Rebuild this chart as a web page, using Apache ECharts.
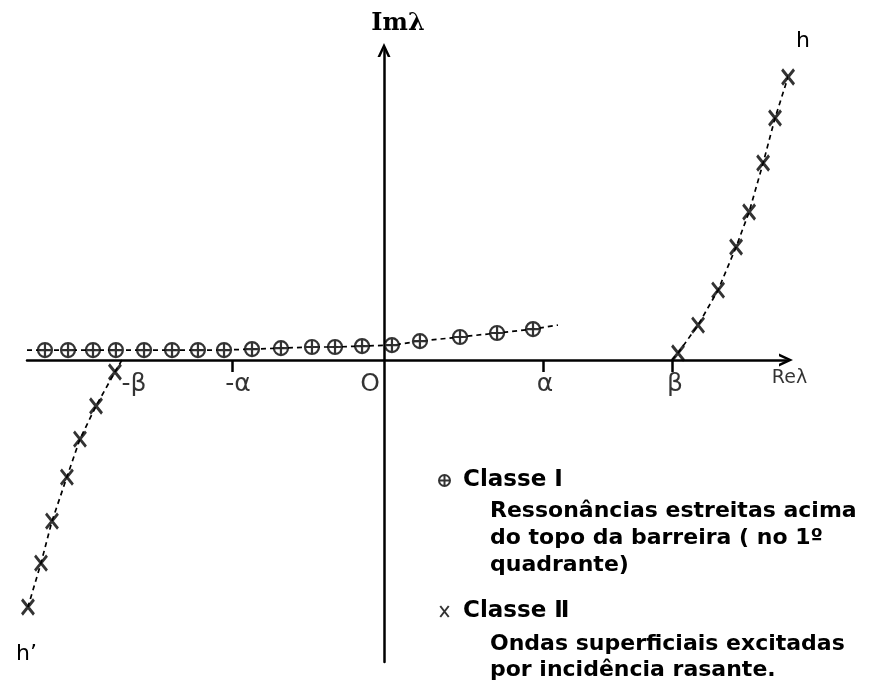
<!DOCTYPE html>
<html><head><meta charset="utf-8">
<script src="https://cdn.jsdelivr.net/npm/echarts@6/dist/echarts.min.js"></script>
<style>html,body{margin:0;padding:0;background:#fff}#c{width:871px;height:686px}</style>
</head><body><div id="c"></div>
<script>
// Class I resonances (Re λ, Im λ), units where α ≈ 1
const classIRe = [-2.132,-1.987,-1.830,-1.686,-1.509,-1.333,-1.170,-1.006,-0.830,-0.648,-0.453,-0.308,-0.138,0.050,0.226,0.478,0.711,0.937];
const classIIm = [0.063,0.063,0.063,0.063,0.063,0.063,0.063,0.063,0.069,0.075,0.082,0.082,0.088,0.094,0.119,0.145,0.170,0.195];
// Class II, branch h (first quadrant)
const classIIRightRe = [1.849,1.975,2.101,2.214,2.296,2.384,2.459,2.541];
const classIIRightIm = [0.044,0.220,0.440,0.711,0.931,1.239,1.522,1.780];
// Class II, branch h' (third quadrant)
const classIILeftRe = [-1.692,-1.811,-1.912,-1.994,-2.088,-2.157,-2.239];
const classIILeftIm = [-0.075,-0.289,-0.497,-0.736,-1.013,-1.277,-1.553];
// dashed curve end points
const curveIStart = [-2.245, 0.063];
const curveIEnd = [1.094, 0.220];
const curveRightStart = [1.811, 0];
const curveRightEnd = [2.572, 1.874];
const curveLeftStart = [-1.648, 0];
// axis ticks and labels (on the real axis)
const tickValues = [-0.956, 1.0, 1.811];
const labelValues = [-1.572, -0.918, -0.088, 1.013, 1.83, 2.55];
const labelTexts = ['-β', '-α', 'O', 'α', 'β', 'Reλ'];
const seriesNames = ['Classe Ⅰ', 'Classe Ⅱ'];
const descI = ['Ressonâncias estreitas acima', 'do topo da barreira ( no 1º', 'quadrante)'];
const descII = ['Ondas superficiais excitadas', 'por incidência rasante.'];

const zip = (a, b) => a.map((v, i) => [v, b[i]]);
const INK = '#000';
const chevron = 'path://M0,14 L6.5,0 L13,14 L10.3,14 L6.5,5.8 L2.7,14 Z';
const circlePlus = 'path://M10,0 A10,10 0 1,1 10,20 A10,10 0 1,1 10,0 Z M0,10 L20,10 M10,0 L10,20';
const crossSym = 'path://M0,0 L10,13 M10,0 L0,13';
const dash = {color: INK, width: 1.7, type: [5, 4]};

const chart = echarts.init(document.getElementById('c'));
chart.setOption({
  backgroundColor: '#fff',
  animation: false,
  grid: {left: 27, right: 85, top: 50, bottom: 24, containLabel: false, outerBoundsMode: 'none'},
  xAxis: {
    type: 'value', min: -2.245, max: 2.528,
    splitLine: {show: false},
    axisLine: {onZero: true, symbol: ['none', chevron], symbolSize: [13, 14], lineStyle: {color: INK, width: 2.5}},
    axisTick: {show: true, customValues: tickValues, length: 12, inside: false, lineStyle: {color: INK, width: 2.5}},
    axisLabel: {show: false}
  },
  yAxis: {
    type: 'value', min: -1.899, max: 1.950,
    splitLine: {show: false},
    axisLine: {onZero: true, symbol: ['none', chevron], symbolSize: [13, 14], lineStyle: {color: INK, width: 2.5}},
    axisTick: {show: false}, axisLabel: {show: false},
    name: 'Imλ', nameLocation: 'end', nameGap: 14,
    nameTextStyle: {fontFamily: 'DejaVu Serif', fontWeight: 'bold', fontSize: 24, color: INK, padding: [0, 0, 0, 28]}
  },
  legend: {
    data: seriesNames, orient: 'vertical', left: 433, top: 464, itemGap: 108,
    itemWidth: 11, itemHeight: 11, selectedMode: false,
    textStyle: {fontFamily: 'DejaVu Sans', fontWeight: 'bold', fontSize: 23, color: INK, padding: [0, 0, 0, 8]}
  },
  graphic: [
    {type: 'text', left: 490, top: 498, style: {text: descI.join('\n'), fontFamily: 'DejaVu Sans', fontWeight: 'bold', fontSize: 22, lineHeight: 27, fill: INK}},
    {type: 'text', left: 490, top: 631, style: {text: descII.join('\n'), fontFamily: 'DejaVu Sans', fontWeight: 'bold', fontSize: 22, lineHeight: 26, fill: INK}},
    {type: 'text', left: 796, top: 30, style: {text: 'h', fontFamily: 'DejaVu Sans', fontSize: 22, fill: INK}},
    {type: 'text', left: 16, top: 643, style: {text: 'h’', fontFamily: 'DejaVu Sans', fontSize: 22, fill: INK}}
  ],
  series: [
    {type: 'line', name: 'curveI', data: [curveIStart, ...zip(classIRe, classIIm), curveIEnd], showSymbol: false, symbol: 'none', lineStyle: dash, clip: false, silent: true, z: 1},
    {type: 'line', name: 'curveRight', data: [curveRightStart, ...zip(classIIRightRe, classIIRightIm), curveRightEnd], showSymbol: false, symbol: 'none', lineStyle: dash, clip: false, silent: true, z: 1},
    {type: 'line', name: 'curveLeft', data: [curveLeftStart, ...zip(classIILeftRe, classIILeftIm)], showSymbol: false, symbol: 'none', lineStyle: dash, clip: false, silent: true, z: 1},
    {type: 'scatter', name: seriesNames[0], data: zip(classIRe, classIIm), symbol: circlePlus, symbolSize: 14, clip: false, z: 3,
     itemStyle: {color: '#fff', borderColor: INK, borderWidth: 2.2}},
    {type: 'scatter', name: seriesNames[1], data: [...zip(classIIRightRe, classIIRightIm), ...zip(classIILeftRe, classIILeftIm)], symbol: crossSym, symbolSize: [12, 15], clip: false, z: 3,
     itemStyle: {color: 'transparent', borderColor: INK, borderWidth: 3}},
    {type: 'scatter', name: 'axisLabels', silent: true, clip: false, symbol: 'circle', symbolSize: 1, z: 4,
     itemStyle: {color: 'rgba(0,0,0,0)'},
     data: labelValues.map((v, i) => ({value: [v, 0], name: labelTexts[i],
       label: i === labelValues.length - 1 ? {fontSize: 19, distance: 8} : {}})),
     label: {show: true, position: 'bottom', distance: 11, formatter: '{b}', color: INK, fontFamily: 'DejaVu Sans', fontSize: 25}}
  ]
});
</script></body></html>
